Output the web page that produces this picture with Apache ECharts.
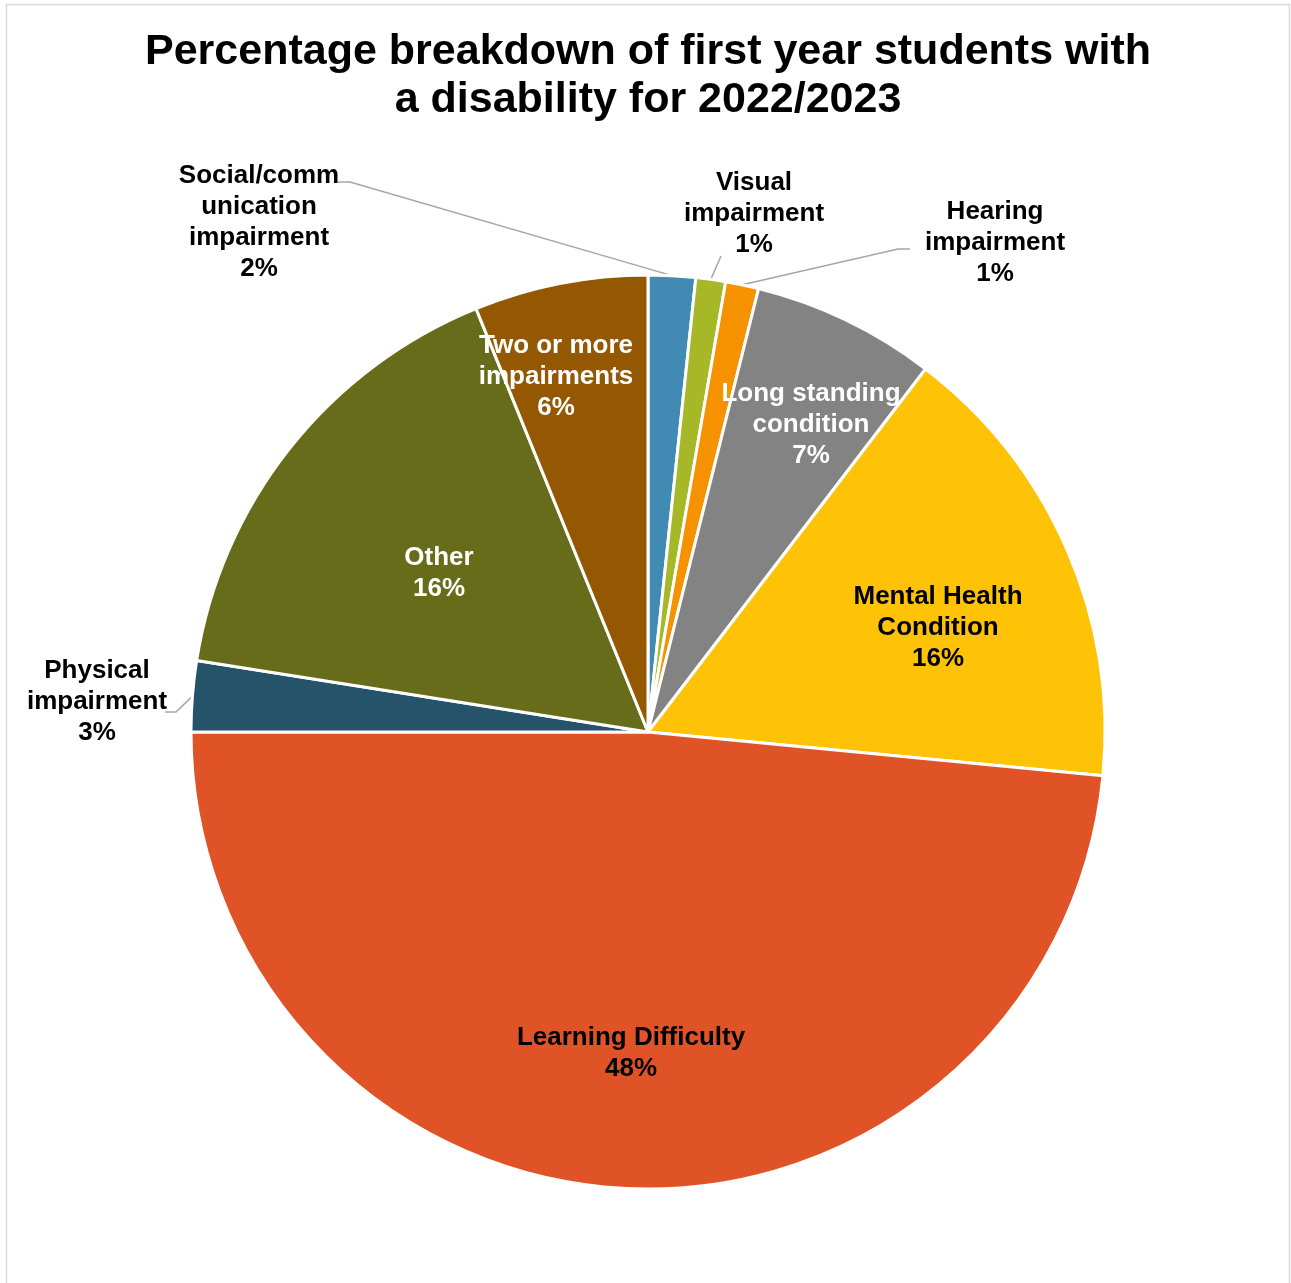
<!DOCTYPE html>
<html>
<head>
<meta charset="utf-8">
<title>First year students with a disability 2022/2023</title>
<script src="https://cdn.jsdelivr.net/npm/echarts@6/dist/echarts.min.js"></script>
<style>
  html, body { margin: 0; padding: 0; background: #ffffff; }
  #chart { width: 1291px; height: 1283px; }
</style>
</head>
<body>
<div id="chart"></div>
<script>
// Disability categories, clockwise from 12 o'clock
const categories = [
  'Social/comm\nunication\nimpairment',
  'Visual\nimpairment',
  'Hearing\nimpairment',
  'Long standing\ncondition',
  'Mental Health\nCondition',
  'Learning Difficulty',
  'Physical\nimpairment',
  'Other',
  'Two or more\nimpairments'
];
// Share of first year students (%)
const shares = [1.67, 1.05, 1.17, 6.5, 16.14, 48.47, 2.5, 16.36, 6.14];

const chartTitle = 'Percentage breakdown of first year students with\na disability for 2022/2023';

// Slice colours and label colours
const sliceColors = ['#418AB3', '#A6B727', '#F69200', '#838383', '#FEC306', '#DF5327', '#255369', '#666C19', '#935801'];
const labelColors = ['#000', '#000', '#000', '#fff', '#000', '#000', '#000', '#fff', '#fff'];

// Pie geometry (px)
const CX = 648, CY = 732, R = 457;
// Label block centres, offset from the pie centre (px)
const labelOffset = [[-389, -510], [106, -518], [347, -489], [163, -307], [290, -104], [-17, 321], [-551, -30], [-209, -159], [-92, -355]];
// Leader-line bend points for the labels drawn outside the pie (offset from centre)
const leaderBends = {
  0: [[-298, -550], [-310, -550]],
  1: [[73, -476], [73, -476]],
  2: [[250, -483], [262, -483]],
  6: [[-472, -20], [-483, -20]]
};

const FONT = '"Liberation Sans", Arial, sans-serif';
const total = shares.reduce((a, b) => a + b, 0);
function midAngle(i) {
  let before = 0;
  for (let k = 0; k < i; k++) before += shares[k];
  return (before + shares[i] / 2) / total * 2 * Math.PI;
}

const chart = echarts.init(document.getElementById('chart'), null, { renderer: 'canvas' });

const data = categories.map((name, i) => ({
  name: name,
  value: shares[i],
  itemStyle: { color: sliceColors[i] },
  label: { color: labelColors[i] },
  labelLine: { show: !!leaderBends[i] }
}));

chart.setOption({
  backgroundColor: '#ffffff',
  animation: false,
  graphic: [{
    type: 'rect',
    silent: true,
    shape: { x: 6.5, y: 4.5, width: 1283, height: 1320 },
    style: { fill: 'none', stroke: '#D9D9D9', lineWidth: 1.5 }
  }, {
    type: 'text',
    silent: true,
    x: 648,
    y: 28,
    style: {
      text: chartTitle,
      align: 'center',
      verticalAlign: 'top',
      fontFamily: FONT,
      fontSize: 43,
      fontWeight: 'bold',
      lineHeight: 48,
      fill: '#000'
    }
  }],
  series: [{
    type: 'pie',
    center: [CX, CY],
    radius: R,
    startAngle: 90,
    clockwise: true,
    avoidLabelOverlap: false,
    itemStyle: { borderColor: '#ffffff', borderWidth: 3 },
    label: {
      show: true,
      position: 'outside',
      fontFamily: FONT,
      fontSize: 26,
      fontWeight: 'bold',
      lineHeight: 31,
      align: 'center',
      formatter: function (p) {
        const pct = Math.round(+(p.value / total * 100).toFixed(2));
        return p.name + '\n' + pct + '%';
      }
    },
    labelLine: {
      lineStyle: { color: '#A6A6A6', width: 1.5 }
    },
    labelLayout: function (p) {
      const i = p.dataIndex;
      const off = labelOffset[i];
      const out = { x: CX + off[0], y: CY + off[1], align: 'center', verticalAlign: 'middle' };
      const bends = leaderBends[i];
      if (bends) {
        const a = midAngle(i);
        const pts = [[CX + R * Math.sin(a), CY - R * Math.cos(a)]];
        bends.forEach(b => pts.push([CX + b[0], CY + b[1]]));
        out.labelLinePoints = pts;
      }
      return out;
    },
    data: data
  }]
});
</script>
</body>
</html>
